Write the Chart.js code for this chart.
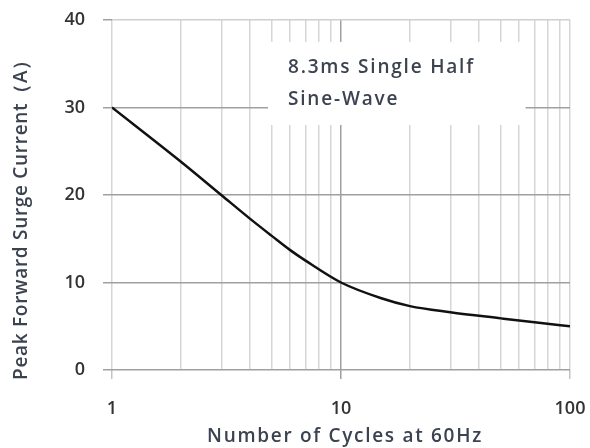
<!DOCTYPE html>
<html>
<head>
<meta charset="utf-8">
<title>Peak Forward Surge Current</title>
<script src="https://cdn.jsdelivr.net/npm/chart.js@4.4.0/dist/chart.umd.min.js"></script>
<style>
  html, body { margin: 0; padding: 0; background: #fff; }
  canvas { display: block; }
</style>
</head>
<body>
<canvas id="surgeChart" width="590" height="448"></canvas>
<script>
"use strict";

/* ----- data ----- */
const cycles = [1, 2, 3, 4, 5, 6, 7, 10, 15, 20, 30, 50, 70, 100];
const surgeCurrent = [30, 23.8, 20, 17.3, 15.3, 13.7, 12.5, 10, 8.2, 7.3, 6.6, 5.9, 5.45, 5.0];
const xTickValues = [1, 2, 3, 4, 5, 6, 7, 8, 9, 10, 20, 30, 40, 50, 60, 70, 80, 90, 100];
const xLabelValues = [1, 10, 100];
const yTickValues = [0, 10, 20, 30, 40];
const xTitle = "Number of Cycles at 60Hz";
const yTitle = "Peak Forward Surge Current（A）";
const noteLines = ["8.3ms Single Half", "Sine-Wave"];

/* ----- look ----- */
const FONT = "'Open Sans', 'Liberation Sans', sans-serif";
const MAJOR_GRID = "#a0a0a0";
const MINOR_GRID = "#d6d6d6";
const TEXT_COLOR = "#333333";
const TITLE_COLOR = "#3b4250";

// draws text with extra spacing between letters (the original looks stretched)
function spacedText(ctx, text, x, y, spacing) {
  ctx.letterSpacing = spacing + "px";
  ctx.fillText(text, x, y);
  ctx.letterSpacing = "0px";
}

const annotationPlugin = {
  id: "annotations",
  // white note box painted over the grid, before the curve
  beforeDatasetsDraw(chart) {
    const ctx = chart.ctx;
    const xs = chart.scales.x;
    const ys = chart.scales.y;
    const left = xs.getPixelForValue(4.8);
    const right = xs.getPixelForValue(64);
    const top = ys.getPixelForValue(37.5);
    const bottom = ys.getPixelForValue(28);
    ctx.save();
    ctx.fillStyle = "#ffffff";
    ctx.fillRect(left, top, right - left, bottom - top);
    ctx.fillStyle = TITLE_COLOR;
    ctx.font = "600 19px " + FONT;
    ctx.textBaseline = "middle";
    ctx.textAlign = "left";
    for (let i = 0; i < noteLines.length; i++) {
      spacedText(ctx, noteLines[i], left + 20, top + 26 + i * 32, 1.8);
    }
    ctx.restore();
  },
  // axis titles, drawn by hand to match the spacing of the original
  afterDraw(chart) {
    const ctx = chart.ctx;
    const area = chart.chartArea;
    ctx.save();
    ctx.fillStyle = TITLE_COLOR;
    ctx.font = "600 19px " + FONT;
    ctx.textAlign = "center";
    ctx.textBaseline = "middle";
    spacedText(ctx, xTitle, (area.left + area.right) / 2 + 4, 437, 1.7);
    ctx.translate(22, (area.top + area.bottom) / 2 + 20);
    ctx.rotate(-Math.PI / 2);
    spacedText(ctx, yTitle, 0, 0, 0.7);
    ctx.restore();
  }
};

const points = cycles.map((c, i) => ({ x: c, y: surgeCurrent[i] }));

function noPadding(scale) {
  scale.paddingLeft = 0;
  scale.paddingRight = 0;
  scale.paddingTop = 0;
  scale.paddingBottom = 0;
}

const config = {
  type: "scatter",
  data: {
    datasets: [
      {
        data: points,
        showLine: true,
        borderColor: "#111111",
        borderWidth: 2.5,
        pointRadius: 0,
        cubicInterpolationMode: "monotone",
        fill: false,
      },
    ],
  },
  options: {
    responsive: false,
    animation: false,
    devicePixelRatio: 1,
    layout: { padding: { left: 0, right: 20, top: 20, bottom: 0 } },
    plugins: {
      legend: { display: false },
      tooltip: { enabled: false },
    },
    scales: {
      x: {
        type: "logarithmic",
        min: 1,
        max: 100,
        afterBuildTicks(scale) {
          scale.ticks = xTickValues.map((v) => ({ value: v, major: xLabelValues.includes(v) }));
        },
        afterFit(scale) {
          scale.height = 78;
          noPadding(scale);
        },
        border: { display: false },
        grid: {
          lineWidth: 1.5,
          tickLength: 9,
          color: (c) => (c.tick && c.tick.value === 10 ? MAJOR_GRID : MINOR_GRID),
          tickColor: (c) =>
            c.tick && xLabelValues.includes(c.tick.value)
              ? (c.tick.value === 10 ? MAJOR_GRID : "#c4c4c4")
              : "rgba(0,0,0,0)",
        },
        ticks: {
          autoSkip: false,
          maxRotation: 0,
          padding: 19,
          color: TEXT_COLOR,
          font: { family: FONT, size: 18, weight: "600" },
          callback: (v) => (xLabelValues.includes(v) ? String(v) : ""),
        },
      },
      y: {
        min: 0,
        max: 40,
        afterBuildTicks(scale) {
          scale.ticks = yTickValues.map((v) => ({ value: v }));
        },
        afterFit(scale) {
          scale.width = 112;
          noPadding(scale);
        },
        border: { display: false },
        grid: {
          lineWidth: 1.5,
          tickLength: 9,
          color: (c) => (c.tick && c.tick.value === 40 ? "#cfcfcf" : MAJOR_GRID),
          tickColor: MAJOR_GRID,
        },
        ticks: {
          padding: 18,
          color: TEXT_COLOR,
          font: { family: FONT, size: 18, weight: "600" },
        },
      },
    },
  },
  plugins: [annotationPlugin],
};

new Chart(document.getElementById("surgeChart"), config);
</script>
</body>
</html>
